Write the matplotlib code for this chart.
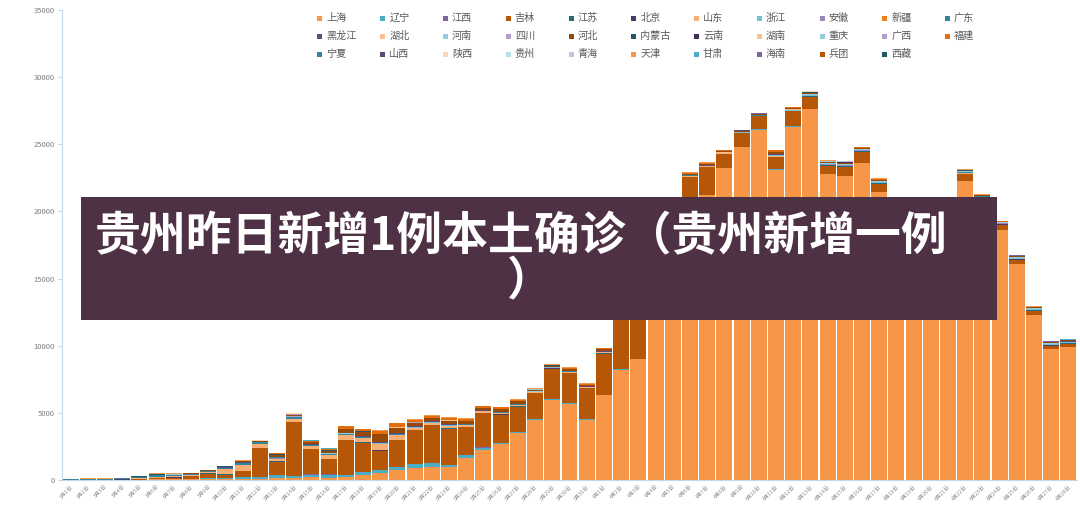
import numpy as np
import matplotlib
matplotlib.use('Agg')
import matplotlib.pyplot as plt
from matplotlib.patches import Rectangle

plt.rcParams['font.family'] = ['Noto Sans CJK SC', 'DejaVu Sans']

# dates on the x axis: 3月1日 .. 4月28日
dates = ['3月%d日' % d for d in range(1, 32)] + ['4月%d日' % d for d in range(1, 29)]

# daily new cases per province
shanghai = [2, 2, 3, 5, 3, 48, 51, 65, 80, 75,
            83, 65, 169, 139, 202, 158, 260, 374, 509, 758,
            896, 981, 983, 1609, 2269, 2676, 3500, 4477, 5982, 5653,
            4502, 6311, 8226, 9006, 13354, 17077, 19982, 21222, 23210, 24770,
            26087, 23090, 26310, 27600, 22770, 22640, 23630, 21450, 19400, 18100,
            17800, 17200, 22270, 20750, 18620, 16060, 12290, 9730, 9930]
jilin = [0, 0, 3, 10, 50, 30, 80, 200, 360, 250,
         400, 2150, 1000, 4000, 1900, 1150, 2600, 2200, 1400, 2000,
         2500, 2800, 2680, 2050, 2550, 2060, 1890, 1910, 2255, 2230,
         2280, 3050, 4600, 4400, 3800, 3100, 2550, 2050, 1030, 1040,
         970, 900, 1110, 900, 600, 650, 790, 600, 450, 400,
         380, 350, 480, 250, 350, 320, 300, 250, 220]
liaoning = [10, 10, 8, 15, 20, 40, 40, 30, 40, 80,
            150, 150, 180, 150, 200, 250, 100, 200, 250, 200,
            280, 300, 150, 250, 150, 100, 60, 50, 40, 60,
            50, 40, 30, 30, 30, 30, 25, 20, 20, 15,
            15, 40, 20, 20, 15, 15, 10, 10, 10, 10,
            8, 8, 8, 5, 5, 5, 5, 5, 5]
shandong = [0, 2, 3, 10, 30, 80, 90, 40, 60, 380,
            450, 280, 180, 200, 180, 250, 320, 280, 500, 350,
            180, 150, 200, 130, 110, 120, 80, 60, 60, 70,
            50, 60, 40, 40, 35, 30, 30, 25, 20, 15,
            15, 60, 20, 20, 15, 15, 10, 10, 8, 8,
            8, 5, 5, 3, 3, 3, 3, 3, 3]
guangdong = [40, 40, 40, 60, 80, 120, 100, 80, 70, 90,
             130, 100, 90, 100, 80, 60, 50, 60, 60, 50,
             40, 40, 40, 40, 35, 30, 30, 20, 20, 25,
             20, 30, 40, 40, 40, 30, 30, 30, 25, 20,
             20, 25, 25, 30, 25, 25, 20, 20, 20, 25,
             25, 20, 20, 15, 15, 15, 15, 15, 10]
hebei = [0, 0, 0, 5, 10, 20, 20, 20, 40, 40,
         60, 60, 150, 100, 120, 200, 300, 350, 550, 400,
         250, 200, 250, 200, 150, 180, 200, 120, 80, 120,
         100, 120, 100, 110, 100, 90, 70, 80, 60, 40,
         40, 150, 80, 100, 100, 100, 70, 80, 60, 60,
         60, 50, 40, 30, 30, 30, 30, 25, 20]
fujian = [0, 0, 0, 0, 0, 0, 0, 0, 0, 0,
          2, 5, 40, 60, 70, 80, 200, 150, 250, 300,
          200, 180, 200, 150, 100, 120, 100, 60, 50, 80,
          60, 80, 90, 90, 80, 80, 60, 70, 50, 30,
          30, 80, 50, 60, 60, 60, 50, 50, 40, 40,
          40, 30, 30, 20, 20, 20, 20, 20, 15]
tianjin = [3, 5, 5, 10, 15, 20, 15, 10, 15, 20,
           20, 15, 20, 25, 20, 30, 30, 30, 30, 30,
           30, 30, 30, 25, 20, 20, 20, 15, 15, 20,
           15, 20, 20, 25, 20, 20, 20, 20, 15, 10,
           10, 30, 20, 30, 30, 30, 30, 30, 30, 30,
           30, 30, 30, 20, 20, 25, 25, 25, 20]
heilongjiang = [2, 3, 3, 5, 10, 15, 10, 10, 15, 20,
                30, 25, 30, 40, 30, 30, 50, 50, 40, 40,
                30, 30, 30, 25, 20, 20, 20, 15, 15, 20,
                15, 20, 20, 25, 20, 20, 15, 15, 15, 10,
                10, 30, 20, 30, 30, 30, 30, 30, 30, 30,
                30, 30, 30, 20, 20, 25, 20, 20, 20]
jiangsu = [2, 2, 2, 3, 5, 10, 10, 10, 15, 20,
           30, 20, 25, 30, 20, 20, 30, 30, 20, 30,
           20, 20, 20, 20, 20, 25, 25, 20, 20, 25,
           20, 25, 25, 30, 30, 30, 30, 30, 30, 20,
           20, 40, 30, 40, 40, 40, 40, 40, 40, 40,
           40, 40, 40, 30, 30, 30, 30, 25, 25]
zhejiang = [2, 3, 3, 5, 5, 10, 10, 10, 10, 10,
            15, 10, 20, 20, 20, 20, 20, 20, 20, 20,
            20, 20, 20, 20, 15, 15, 15, 15, 15, 15,
            15, 20, 20, 20, 20, 20, 20, 20, 15, 15,
            15, 40, 30, 40, 40, 40, 40, 40, 50, 50,
            60, 60, 60, 40, 60, 60, 60, 60, 60]
beijing = [2, 3, 3, 5, 5, 10, 10, 8, 8, 10,
           10, 8, 10, 10, 10, 10, 10, 10, 10, 10,
           10, 10, 10, 10, 10, 10, 10, 8, 8, 10,
           8, 10, 10, 10, 10, 10, 10, 10, 10, 5,
           5, 15, 10, 10, 10, 10, 10, 10, 10, 15,
           15, 15, 20, 20, 30, 35, 40, 45, 50]
henan = [0, 0, 0, 2, 5, 5, 5, 5, 5, 5,
         10, 10, 10, 10, 10, 10, 10, 10, 10, 10,
         10, 10, 10, 10, 10, 10, 10, 10, 10, 10,
         10, 15, 15, 20, 20, 20, 20, 20, 20, 15,
         15, 30, 30, 40, 40, 50, 40, 50, 50, 60,
         60, 60, 50, 40, 50, 50, 50, 50, 50]
neimenggu = [20, 30, 30, 30, 35, 40, 25, 25, 30, 25,
             30, 20, 30, 30, 20, 20, 20, 15, 10, 10,
             10, 10, 10, 8, 8, 8, 8, 8, 8, 8,
             8, 5, 5, 5, 5, 5, 5, 5, 5, 5,
             5, 5, 5, 5, 5, 5, 5, 5, 5, 5,
             5, 5, 5, 3, 3, 3, 3, 3, 3]
guangxi = [10, 10, 8, 10, 10, 15, 10, 8, 10, 10,
           10, 8, 10, 10, 8, 8, 8, 8, 5, 5,
           5, 5, 5, 5, 5, 5, 5, 5, 5, 5,
           5, 5, 5, 5, 5, 5, 5, 5, 5, 3,
           3, 5, 3, 3, 3, 3, 3, 3, 3, 3,
           3, 3, 3, 3, 3, 3, 3, 3, 3]
jiangxi = [0, 0, 0, 0, 0, 0, 0, 0, 0, 2,
           5, 5, 10, 15, 10, 10, 10, 10, 15, 15,
           15, 10, 10, 10, 10, 8, 8, 8, 5, 5,
           5, 5, 5, 5, 5, 3, 3, 3, 3, 3,
           3, 3, 3, 3, 3, 3, 3, 3, 3, 3,
           3, 3, 3, 2, 2, 2, 2, 2, 2]
anhui = [0, 0, 0, 0, 0, 2, 2, 2, 2, 3,
         5, 5, 8, 10, 8, 8, 8, 8, 5, 5,
         5, 5, 5, 5, 5, 5, 5, 5, 5, 8,
         8, 8, 10, 10, 10, 10, 10, 10, 10, 8,
         8, 10, 10, 10, 10, 10, 10, 10, 10, 10,
         10, 10, 10, 5, 5, 5, 5, 5, 5]
hunan = [0, 0, 0, 0, 2, 5, 5, 5, 5, 5,
         8, 5, 8, 8, 5, 5, 5, 5, 5, 5,
         5, 5, 5, 5, 5, 5, 5, 5, 5, 5,
         5, 5, 5, 5, 5, 3, 3, 3, 3, 3,
         3, 3, 3, 3, 3, 3, 3, 3, 3, 3,
         3, 3, 3, 3, 3, 3, 3, 3, 3]
sichuan = [2, 2, 2, 2, 3, 5, 3, 3, 3, 3,
           3, 3, 3, 3, 3, 3, 3, 3, 3, 3,
           3, 3, 3, 3, 3, 3, 3, 3, 3, 3,
           3, 3, 5, 5, 5, 5, 5, 5, 5, 3,
           3, 5, 5, 5, 5, 5, 5, 5, 5, 5,
           5, 5, 5, 3, 5, 5, 5, 5, 5]
yunnan = [0, 0, 0, 2, 5, 8, 5, 5, 5, 5,
          5, 5, 8, 8, 5, 5, 5, 5, 5, 3,
          3, 3, 3, 3, 3, 3, 3, 3, 3, 3,
          3, 3, 3, 3, 3, 3, 3, 3, 3, 3,
          3, 3, 3, 3, 3, 3, 3, 3, 3, 3,
          3, 3, 3, 3, 3, 3, 3, 3, 3]
shanxi = [0, 0, 0, 0, 0, 0, 0, 0, 2, 2,
          3, 3, 5, 5, 5, 5, 5, 5, 3, 3,
          3, 3, 3, 3, 3, 3, 3, 3, 3, 3,
          3, 3, 3, 3, 3, 3, 3, 3, 3, 3,
          3, 3, 3, 3, 3, 3, 3, 3, 3, 3,
          3, 3, 3, 3, 3, 3, 3, 3, 3]
shaanxi = [0, 0, 0, 0, 0, 0, 0, 0, 0, 2,
           2, 3, 3, 5, 5, 5, 5, 3, 3, 3,
           3, 3, 3, 3, 3, 2, 2, 2, 2, 2,
           2, 2, 2, 2, 2, 2, 2, 2, 2, 2,
           2, 2, 2, 2, 2, 2, 2, 2, 2, 2,
           2, 2, 2, 2, 2, 2, 2, 2, 2]
gansu = [0, 0, 0, 0, 0, 0, 0, 0, 2, 3,
         5, 5, 8, 8, 8, 8, 5, 5, 3, 3,
         3, 3, 3, 3, 3, 3, 3, 3, 3, 2,
         2, 2, 2, 2, 2, 2, 2, 2, 2, 2,
         2, 2, 2, 2, 2, 2, 2, 2, 2, 2,
         2, 2, 2, 2, 2, 2, 2, 2, 2]
hainan = [0, 0, 0, 0, 0, 0, 0, 0, 0, 0,
          0, 0, 0, 0, 0, 0, 0, 0, 0, 0,
          0, 0, 0, 0, 0, 0, 0, 0, 0, 0,
          2, 3, 3, 3, 5, 5, 5, 5, 5, 5,
          10, 10, 10, 10, 10, 10, 10, 10, 10, 10,
          8, 8, 8, 8, 8, 8, 8, 8, 8]
hubei = [1, 1, 1, 1, 2, 2, 2, 2, 2, 2,
         2, 2, 2, 2, 2, 2, 2, 2, 2, 2,
         2, 2, 2, 2, 2, 2, 2, 2, 2, 2,
         2, 2, 2, 2, 2, 2, 2, 2, 2, 1,
         1, 2, 2, 2, 2, 2, 2, 2, 2, 2,
         2, 2, 2, 1, 1, 1, 1, 1, 1]
chongqing = [0, 0, 0, 0, 1, 1, 1, 1, 1, 1,
             1, 1, 1, 1, 1, 1, 1, 1, 1, 1,
             1, 1, 1, 1, 1, 1, 1, 1, 1, 1,
             1, 1, 1, 1, 1, 1, 1, 1, 1, 0,
             0, 1, 1, 1, 1, 1, 1, 1, 1, 1,
             1, 1, 1, 1, 1, 1, 1, 1, 1]
ningxia = [0, 0, 0, 0, 0, 0, 0, 0, 0, 0,
           0, 0, 0, 0, 0, 0, 0, 0, 0, 0,
           0, 1, 1, 1, 1, 1, 1, 1, 1, 1,
           1, 1, 1, 1, 1, 1, 1, 1, 1, 0,
           0, 0, 0, 0, 0, 0, 0, 0, 0, 0,
           0, 0, 0, 0, 0, 0, 0, 0, 0]
guizhou = [0, 0, 0, 0, 0, 0, 0, 0, 0, 0,
           0, 0, 0, 0, 0, 0, 0, 0, 0, 0,
           0, 0, 0, 0, 0, 0, 0, 0, 0, 0,
           0, 0, 0, 0, 0, 0, 0, 0, 0, 0,
           0, 0, 0, 0, 0, 0, 0, 0, 0, 0,
           0, 0, 0, 0, 0, 0, 0, 0, 1]
qinghai = [0, 0, 0, 0, 0, 0, 0, 0, 0, 0,
           0, 0, 0, 0, 0, 0, 0, 0, 0, 0,
           0, 0, 0, 0, 0, 0, 0, 0, 0, 0,
           0, 1, 1, 2, 2, 2, 3, 3, 3, 2,
           2, 3, 3, 3, 3, 3, 3, 3, 3, 3,
           3, 3, 3, 2, 2, 2, 2, 2, 2]
xinjiang = [0, 0, 0, 0, 0, 0, 0, 0, 0, 0,
            0, 0, 0, 0, 0, 0, 0, 0, 0, 0,
            0, 0, 0, 0, 0, 0, 0, 0, 0, 0,
            0, 0, 0, 0, 0, 0, 0, 0, 0, 0,
            0, 1, 1, 2, 2, 1, 1, 1, 1, 1,
            1, 1, 1, 0, 0, 0, 0, 0, 0]
bingtuan = [0, 0, 0, 0, 0, 0, 0, 0, 0, 0,
            0, 0, 0, 0, 0, 0, 0, 0, 0, 0,
            0, 0, 0, 0, 0, 0, 0, 0, 0, 0,
            0, 0, 0, 0, 0, 0, 0, 0, 0, 0,
            0, 0, 0, 0, 0, 0, 0, 0, 0, 0,
            0, 0, 0, 0, 0, 0, 0, 0, 0]
xizang = [0, 0, 0, 0, 0, 0, 0, 0, 0, 0,
          0, 0, 0, 0, 0, 0, 0, 0, 0, 0,
          0, 0, 0, 0, 0, 0, 0, 0, 0, 0,
          0, 0, 0, 0, 0, 0, 0, 0, 0, 0,
          0, 0, 0, 0, 0, 0, 0, 0, 0, 0,
          0, 0, 0, 0, 0, 0, 0, 0, 0]

# series in legend / stacking order
provinces = ['上海', '辽宁', '江西', '吉林', '江苏', '北京', '山东', '浙江', '安徽', '新疆', '广东',
             '黑龙江', '湖北', '河南', '四川', '河北', '内蒙古', '云南', '湖南', '重庆', '广西', '福建',
             '宁夏', '山西', '陕西', '贵州', '青海', '天津', '甘肃', '海南', '兵团', '西藏']
values = [shanghai, liaoning, jiangxi, jilin, jiangsu, beijing, shandong, zhejiang, anhui, xinjiang, guangdong,
          heilongjiang, hubei, henan, sichuan, hebei, neimenggu, yunnan, hunan, chongqing, guangxi, fujian,
          ningxia, shanxi, shaanxi, guizhou, qinghai, tianjin, gansu, hainan, bingtuan, xizang]
colors = ['#F79646', '#4BACC6', '#8064A2', '#B65708', '#276A7C', '#4B3A68', '#F9AE74', '#78C0D4', '#9A86B8', '#F07E14', '#31859C',
          '#604A7B', '#FBBF92', '#92CDDC', '#B3A2C7', '#984807', '#215968', '#403152', '#FAC090', '#93CDDD', '#B1A0C7', '#E46C0A',
          '#31859C', '#5F497A', '#FCD5B5', '#B7DEE8', '#CCC1DA', '#F79646', '#4BACC6', '#8064A2', '#B65708', '#215968']

for v in values:
    assert len(v) == len(dates)

W, H = 1080, 518
fig = plt.figure(figsize=(W / 100, H / 100), dpi=100)
ax = fig.add_axes([62 / W, 1 - 480 / H, (1077 - 62) / W, 470 / H])

x = np.arange(len(dates))
bottom = np.zeros(len(dates))
for name, col, v in zip(provinces, colors, values):
    v = np.array(v, dtype=float)
    ax.bar(x, v, 0.93, bottom=bottom, color=col, linewidth=0, label=name)
    bottom += v

ax.set_xlim(-0.5, len(dates) - 0.5)
ax.set_ylim(0, 35000)
ax.set_yticks(np.arange(0, 35001, 5000))
ax.tick_params(axis='y', labelsize=5.5, labelcolor='#7f7f7f', length=3, color='#c5d5ea', pad=2)
ax.set_xticks(x)
ax.set_xticklabels(dates, rotation=45, ha='right', va='top', rotation_mode='anchor',
                   fontsize=3.8, color='#8c8c8c')
ax.tick_params(axis='x', length=0, pad=3)
for s in ['top', 'right']:
    ax.spines[s].set_visible(False)
ax.spines['left'].set_color('#c5d5ea')
ax.spines['bottom'].set_color('#c5d5ea')

# legend, 11 columns like the original
for k, name in enumerate(provinces):
    px = 320 + (k % 11) * 62.75
    py = 18 + (k // 11) * 18
    fig.add_artist(Rectangle(((px - 2.5) / W, 1 - (py + 2.5) / H), 5 / W, 5 / H,
                             transform=fig.transFigure, color=colors[k], linewidth=0))
    fig.text((px + 6.5) / W, 1 - py / H, name, fontsize=7.3, color='#595959', va='center', ha='left')

# title banner over the chart
fig.add_artist(Rectangle((81 / W, 1 - 320 / H), (997 - 81) / W, (320 - 197) / H,
                         transform=fig.transFigure, color='#4F3146', linewidth=0, zorder=10))
fig.text(521 / W, 1 - 237 / H, '贵州昨日新增1例本土确诊（贵州新增一例', fontsize=33, color='white',
         weight='heavy', ha='center', va='center', zorder=11)
fig.text(530 / W, 1 - 281 / H, '）', fontsize=33, color='white',
         weight='heavy', ha='center', va='center', zorder=11)

fig.savefig('out.png', dpi=100)
